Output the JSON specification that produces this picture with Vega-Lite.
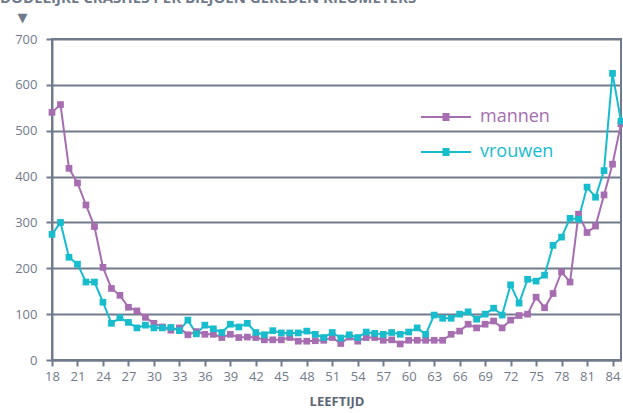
{
  "$schema": "https://vega.github.io/schema/vega-lite/v6.json",
  "width": 569,
  "height": 321,
  "autosize": {"type": "none"},
  "padding": {"left": 52, "top": 39, "right": 2, "bottom": 53},
  "background": "white",
  "title": {
    "text": "DODELIJKE CRASHES PER BILJOEN GEREDEN KILOMETERS",
    "anchor": "start",
    "frame": "group",
    "dx": -52,
    "offset": -7,
    "baseline": "alphabetic",
    "font": "Open Sans",
    "fontSize": 15,
    "fontWeight": "bold",
    "color": "#6f7a8c"
  },
  "data": {
    "values": [
      {"age": 18, "sex": "mannen", "value": 540}, {"age": 19, "sex": "mannen", "value": 557}, {"age": 20, "sex": "mannen", "value": 418}, {"age": 21, "sex": "mannen", "value": 386}, {"age": 22, "sex": "mannen", "value": 338}, {"age": 23, "sex": "mannen", "value": 291}, {"age": 24, "sex": "mannen", "value": 202}, {"age": 25, "sex": "mannen", "value": 156}, {"age": 26, "sex": "mannen", "value": 141}, {"age": 27, "sex": "mannen", "value": 115}, {"age": 28, "sex": "mannen", "value": 107}, {"age": 29, "sex": "mannen", "value": 93}, {"age": 30, "sex": "mannen", "value": 80}, {"age": 31, "sex": "mannen", "value": 72}, {"age": 32, "sex": "mannen", "value": 65}, {"age": 33, "sex": "mannen", "value": 70}, {"age": 34, "sex": "mannen", "value": 55}, {"age": 35, "sex": "mannen", "value": 62}, {"age": 36, "sex": "mannen", "value": 56}, {"age": 37, "sex": "mannen", "value": 56}, {"age": 38, "sex": "mannen", "value": 49}, {"age": 39, "sex": "mannen", "value": 56}, {"age": 40, "sex": "mannen", "value": 49}, {"age": 41, "sex": "mannen", "value": 50}, {"age": 42, "sex": "mannen", "value": 49}, {"age": 43, "sex": "mannen", "value": 44}, {"age": 44, "sex": "mannen", "value": 44}, {"age": 45, "sex": "mannen", "value": 44}, {"age": 46, "sex": "mannen", "value": 49}, {"age": 47, "sex": "mannen", "value": 41}, {"age": 48, "sex": "mannen", "value": 41}, {"age": 49, "sex": "mannen", "value": 42}, {"age": 50, "sex": "mannen", "value": 43}, {"age": 51, "sex": "mannen", "value": 49}, {"age": 52, "sex": "mannen", "value": 36}, {"age": 53, "sex": "mannen", "value": 50}, {"age": 54, "sex": "mannen", "value": 41}, {"age": 55, "sex": "mannen", "value": 49}, {"age": 56, "sex": "mannen", "value": 49}, {"age": 57, "sex": "mannen", "value": 43}, {"age": 58, "sex": "mannen", "value": 44}, {"age": 59, "sex": "mannen", "value": 35}, {"age": 60, "sex": "mannen", "value": 43}, {"age": 61, "sex": "mannen", "value": 43}, {"age": 62, "sex": "mannen", "value": 43}, {"age": 63, "sex": "mannen", "value": 43}, {"age": 64, "sex": "mannen", "value": 43}, {"age": 65, "sex": "mannen", "value": 56}, {"age": 66, "sex": "mannen", "value": 63}, {"age": 67, "sex": "mannen", "value": 78}, {"age": 68, "sex": "mannen", "value": 70}, {"age": 69, "sex": "mannen", "value": 78}, {"age": 70, "sex": "mannen", "value": 85}, {"age": 71, "sex": "mannen", "value": 70}, {"age": 72, "sex": "mannen", "value": 87}, {"age": 73, "sex": "mannen", "value": 97}, {"age": 74, "sex": "mannen", "value": 100}, {"age": 75, "sex": "mannen", "value": 137}, {"age": 76, "sex": "mannen", "value": 114}, {"age": 77, "sex": "mannen", "value": 145}, {"age": 78, "sex": "mannen", "value": 192}, {"age": 79, "sex": "mannen", "value": 170}, {"age": 80, "sex": "mannen", "value": 318}, {"age": 81, "sex": "mannen", "value": 278}, {"age": 82, "sex": "mannen", "value": 292}, {"age": 83, "sex": "mannen", "value": 360}, {"age": 84, "sex": "mannen", "value": 427}, {"age": 85, "sex": "mannen", "value": 515},
      {"age": 18, "sex": "vrouwen", "value": 274}, {"age": 19, "sex": "vrouwen", "value": 300}, {"age": 20, "sex": "vrouwen", "value": 224}, {"age": 21, "sex": "vrouwen", "value": 209}, {"age": 22, "sex": "vrouwen", "value": 170}, {"age": 23, "sex": "vrouwen", "value": 170}, {"age": 24, "sex": "vrouwen", "value": 126}, {"age": 25, "sex": "vrouwen", "value": 80}, {"age": 26, "sex": "vrouwen", "value": 92}, {"age": 27, "sex": "vrouwen", "value": 82}, {"age": 28, "sex": "vrouwen", "value": 70}, {"age": 29, "sex": "vrouwen", "value": 76}, {"age": 30, "sex": "vrouwen", "value": 70}, {"age": 31, "sex": "vrouwen", "value": 70}, {"age": 32, "sex": "vrouwen", "value": 71}, {"age": 33, "sex": "vrouwen", "value": 64}, {"age": 34, "sex": "vrouwen", "value": 87}, {"age": 35, "sex": "vrouwen", "value": 57}, {"age": 36, "sex": "vrouwen", "value": 76}, {"age": 37, "sex": "vrouwen", "value": 68}, {"age": 38, "sex": "vrouwen", "value": 60}, {"age": 39, "sex": "vrouwen", "value": 78}, {"age": 40, "sex": "vrouwen", "value": 72}, {"age": 41, "sex": "vrouwen", "value": 80}, {"age": 42, "sex": "vrouwen", "value": 60}, {"age": 43, "sex": "vrouwen", "value": 55}, {"age": 44, "sex": "vrouwen", "value": 64}, {"age": 45, "sex": "vrouwen", "value": 59}, {"age": 46, "sex": "vrouwen", "value": 59}, {"age": 47, "sex": "vrouwen", "value": 59}, {"age": 48, "sex": "vrouwen", "value": 63}, {"age": 49, "sex": "vrouwen", "value": 56}, {"age": 50, "sex": "vrouwen", "value": 49}, {"age": 51, "sex": "vrouwen", "value": 60}, {"age": 52, "sex": "vrouwen", "value": 48}, {"age": 53, "sex": "vrouwen", "value": 55}, {"age": 54, "sex": "vrouwen", "value": 49}, {"age": 55, "sex": "vrouwen", "value": 61}, {"age": 56, "sex": "vrouwen", "value": 58}, {"age": 57, "sex": "vrouwen", "value": 56}, {"age": 58, "sex": "vrouwen", "value": 60}, {"age": 59, "sex": "vrouwen", "value": 56}, {"age": 60, "sex": "vrouwen", "value": 61}, {"age": 61, "sex": "vrouwen", "value": 70}, {"age": 62, "sex": "vrouwen", "value": 56}, {"age": 63, "sex": "vrouwen", "value": 98}, {"age": 64, "sex": "vrouwen", "value": 91}, {"age": 65, "sex": "vrouwen", "value": 91}, {"age": 66, "sex": "vrouwen", "value": 100}, {"age": 67, "sex": "vrouwen", "value": 105}, {"age": 68, "sex": "vrouwen", "value": 89}, {"age": 69, "sex": "vrouwen", "value": 100}, {"age": 70, "sex": "vrouwen", "value": 113}, {"age": 71, "sex": "vrouwen", "value": 98}, {"age": 72, "sex": "vrouwen", "value": 164}, {"age": 73, "sex": "vrouwen", "value": 124}, {"age": 74, "sex": "vrouwen", "value": 176}, {"age": 75, "sex": "vrouwen", "value": 172}, {"age": 76, "sex": "vrouwen", "value": 185}, {"age": 77, "sex": "vrouwen", "value": 250}, {"age": 78, "sex": "vrouwen", "value": 268}, {"age": 79, "sex": "vrouwen", "value": 309}, {"age": 80, "sex": "vrouwen", "value": 307}, {"age": 81, "sex": "vrouwen", "value": 377}, {"age": 82, "sex": "vrouwen", "value": 355}, {"age": 83, "sex": "vrouwen", "value": 413}, {"age": 84, "sex": "vrouwen", "value": 625}, {"age": 85, "sex": "vrouwen", "value": 521}
    ]
  },
  "mark": {
    "type": "line",
    "strokeWidth": 2,
    "clip": false,
    "point": {"shape": "square", "filled": true, "size": 45, "opacity": 1}
  },
  "encoding": {
    "x": {
      "field": "age",
      "type": "quantitative",
      "scale": {"domain": [18, 85], "nice": false, "zero": false},
      "axis": {
        "title": "LEEFTIJD",
        "values": [18, 21, 24, 27, 30, 33, 36, 39, 42, 45, 48, 51, 54, 57, 60, 63, 66, 69, 72, 75, 78, 81, 84],
        "grid": false,
        "labelOverlap": false,
        "labelFlush": false,
        "labelBound": false,
        "tickSize": 6,
        "tickWidth": 2,
        "labelPadding": 4,
        "domainWidth": 2,
        "titleFont": "Open Sans",
        "titleFontSize": 13,
        "titleFontWeight": "bold",
        "titleColor": "#5d6676",
        "titlePadding": 12
      }
    },
    "y": {
      "field": "value",
      "type": "quantitative",
      "scale": {"domain": [0, 700], "nice": false},
      "axis": {
        "title": "▼",
        "titleFont": "DejaVu Sans",
        "titleFontSize": 13,
        "titleFontWeight": "normal",
        "titleColor": "#6f7a8c",
        "titleAngle": 0,
        "titleAlign": "center",
        "titleBaseline": "middle",
        "titleX": -30,
        "titleY": -22,
        "values": [0, 100, 200, 300, 400, 500, 600, 700],
        "grid": true,
        "gridWidth": 2,
        "tickSize": 6,
        "tickWidth": 2,
        "labelPadding": 9,
        "domainWidth": 2
      }
    },
    "color": {
      "field": "sex",
      "type": "nominal",
      "scale": {"domain": ["mannen", "vrouwen"], "range": ["#a66db0", "#17bccd"]},
      "legend": {
        "title": null,
        "orient": "none",
        "legendX": 368,
        "legendY": 52,
        "symbolType": "M-1,0H1M-0.14,-0.12H0.14M-0.14,-0.06H0.14M-0.14,0H0.14M-0.14,0.06H0.14M-0.14,0.12H0.14",
        "symbolSize": 2500,
        "symbolStrokeWidth": 2,
        "labelFont": "Open Sans",
        "labelFontSize": 18,
        "labelOffset": 8,
        "rowPadding": -16,
        "labelColor": {"expr": "datum.value == 'mannen' ? '#a66db0' : '#17bccd'"}
      }
    }
  },
  "config": {
    "view": {"stroke": "#717b8c", "strokeWidth": 2},
    "axis": {
      "labelFont": "Open Sans",
      "labelFontSize": 13,
      "labelColor": "#717b8c",
      "tickColor": "#717b8c",
      "domainColor": "#717b8c",
      "gridColor": "#717b8c",
      "gridOpacity": 1
    }
  }
}
